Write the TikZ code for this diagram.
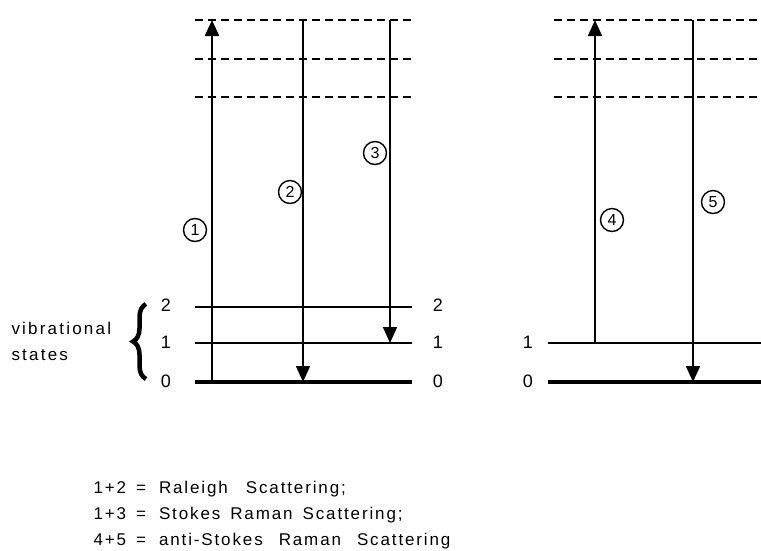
\documentclass[tikz,border=0pt]{standalone}
\usepackage{fontspec}
\setmainfont{Liberation Sans}
\newfontfamily\labfont[LetterSpace=13]{Liberation Sans}
\newfontfamily\txtfont[LetterSpace=11]{Liberation Sans}
\usetikzlibrary{arrows.meta,decorations.pathreplacing}
\begin{document}
\begin{tikzpicture}[x=1pt,y=-1pt,
  lvl/.style={line width=2.2pt},
  lvlzero/.style={line width=3.6pt},
  virt/.style={line width=2.6pt,dash pattern=on 8pt off 5pt},
  trans/.style={line width=1.6pt,-{Triangle[width=14pt,length=16pt]}},
  num/.style={circle,draw,line width=1.4pt,inner sep=1pt,minimum size=23pt,font=\fontsize{16}{16}\selectfont},
  lab/.style={font=\labfont\fontsize{17}{17}\selectfont},
  dig/.style={font=\fontsize{18}{18}\selectfont},
  txt/.style={anchor=west,font=\txtfont\fontsize{17}{17}\selectfont}]
\useasboundingbox (0,0) rectangle (761,550);
\clip (0,0) rectangle (761,550);
% virtual levels
\foreach \y/\n in {20/a,59/b,97/c}{
  \coordinate (Lv\n s) at (195,\y); \coordinate (Lv\n e) at (413,\y);
  \draw[virt] (Lv\n s) -- (Lv\n e);
  \coordinate (Rv\n s) at (554,\y); \coordinate (Rv\n e) at (765,\y);
  \draw[virt] (Rv\n s) -- (Rv\n e);
}
% left panel vibrational levels
\coordinate (L2s) at (195,307); \coordinate (L2e) at (412,307);
\coordinate (L1s) at (195,343); \coordinate (L1e) at (412,343);
\coordinate (L0s) at (195,382); \coordinate (L0e) at (412,382);
\draw[lvl] (L2s) -- (L2e);
\draw[lvl] (L1s) -- (L1e);
\draw[lvlzero] (L0s) -- (L0e);
\node[dig] (n2l) at (166,305) {2};
\node[dig] (n1l) at (166,342) {1};
\node[dig] (n0l) at (166,381) {0};
\node[dig] (n2r) at (438,305) {2};
\node[dig] (n1r) at (438,342) {1};
\node[dig] (n0r) at (438,381) {0};
% brace and label
\coordinate (bb) at (146,379); \coordinate (bt) at (146,304);
\draw[line width=4.5pt,decorate,decoration={brace,amplitude=13pt}] (bb) -- (bt);
\node[lab,anchor=west] (vib) at (8,328) {vibrational};
\node[lab,anchor=west] (sta) at (8,355) {states};
% right panel levels
\coordinate (R1s) at (548,343); \coordinate (R1e) at (765,343);
\coordinate (R0s) at (548,382); \coordinate (R0e) at (765,382);
\draw[lvl] (R1s) -- (R1e);
\draw[lvlzero] (R0s) -- (R0e);
\node[dig] (m1) at (528,342) {1};
\node[dig] (m0) at (528,381) {0};
% transitions
\coordinate (a1s) at (212,382); \coordinate (a1e) at (212,20);
\coordinate (a2s) at (303,20); \coordinate (a2e) at (303,382);
\coordinate (a3s) at (390,20); \coordinate (a3e) at (390,343);
\coordinate (a4s) at (595,343); \coordinate (a4e) at (595,20);
\coordinate (a5s) at (693,20); \coordinate (a5e) at (693,382);
\draw[trans,line width=2.5pt] (a1s) -- (a1e);
\draw[trans] (a2s) -- (a2e);
\draw[trans] (a3s) -- (a3e);
\draw[trans] (a4s) -- (a4e);
\draw[trans] (a5s) -- (a5e);
\node[num] (c1) at (195,230) {1};
\node[num] (c2) at (290,192) {2};
\node[num] (c3) at (375,153) {3};
\node[num] (c4) at (612,220) {4};
\node[num] (c5) at (713,202) {5};
% legend
\node[txt] (t1) at (90,489) {1+2\hspace{10pt}=\hspace{13pt}Raleigh\hspace{18pt}Scattering;};
\node[txt] (t2) at (90,515) {1+3\hspace{10pt}=\hspace{13pt}Stokes\hspace{10pt}Raman\hspace{10pt}Scattering;};
\node[txt] (t3) at (90,541) {4+5\hspace{10pt}=\hspace{13pt}anti-Stokes\hspace{16pt}Raman\hspace{16pt}Scattering};
\end{tikzpicture}
\end{document}
